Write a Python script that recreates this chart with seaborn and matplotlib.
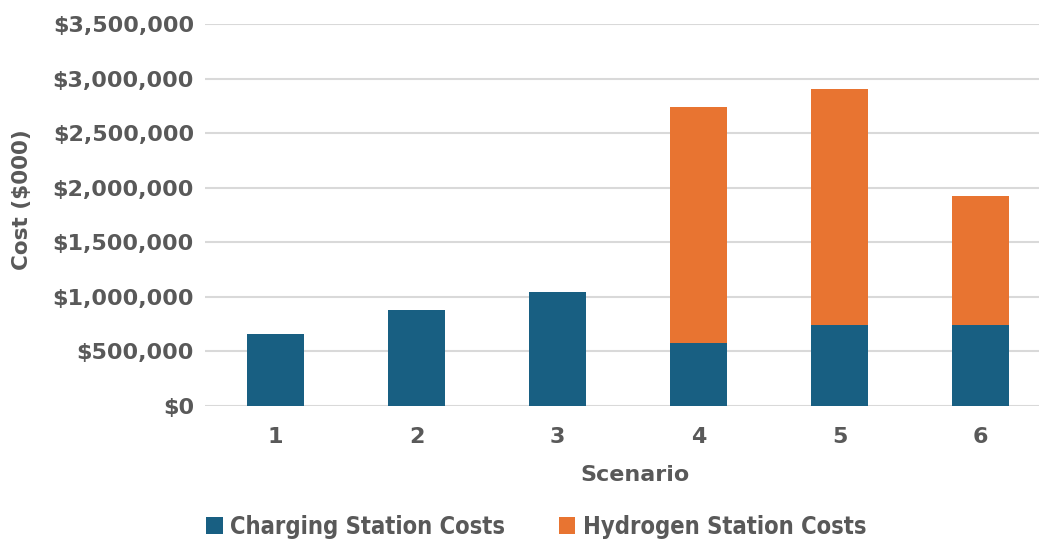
import matplotlib
matplotlib.use("Agg")
import matplotlib.pyplot as plt
from matplotlib.patches import Patch
from matplotlib.ticker import FuncFormatter
import seaborn as sns
import pandas as pd

scenarios = ["1", "2", "3", "4", "5", "6"]
charging_costs = [660000, 882000, 1047000, 577000, 745000, 745000]
hydrogen_costs = [0, 0, 0, 2163000, 2162000, 1182000]
series_names = ["Charging Station Costs", "Hydrogen Station Costs"]
y_ticks = [0, 500000, 1000000, 1500000, 2000000, 2500000, 3000000, 3500000]

BLUE = "#185F82"
ORANGE = "#E87431"
TEXT = "#595959"
GRID = "#D9D9D9"

sns.set_theme(style="white")
plt.rcParams["font.family"] = ["DejaVu Sans"]

df = pd.DataFrame({
    "Scenario": scenarios,
    "Charging": charging_costs,
    "Total": [c + h for c, h in zip(charging_costs, hydrogen_costs)],
})

fig = plt.figure(figsize=(10.39, 5.44), dpi=100)
ax = fig.add_axes([205 / 1039, 1 - 406 / 544, (1051 - 205) / 1039, (406 - 24) / 544])

# stacked bars: full total in orange, charging share in blue drawn over it
sns.barplot(data=df, x="Scenario", y="Total", color=ORANGE, saturation=1,
            width=0.4, linewidth=0, ax=ax, zorder=2)
sns.barplot(data=df, x="Scenario", y="Charging", color=BLUE, saturation=1,
            width=0.4, linewidth=0, ax=ax, zorder=3)

ax.set_ylim(0, 3500000)
ax.set_xlim(-0.5, 5.5)
ax.set_yticks(y_ticks)
ax.yaxis.set_major_formatter(FuncFormatter(lambda v, p: f"${v:,.0f}"))
ax.grid(axis="y", color=GRID, linewidth=1.5, zorder=0)
ax.set_axisbelow(True)
for s in ax.spines.values():
    s.set_visible(False)
ax.tick_params(axis="both", length=0, colors=TEXT, labelsize=16)
ax.tick_params(axis="y", pad=8)
ax.tick_params(axis="x", pad=15)
for lbl in ax.get_xticklabels() + ax.get_yticklabels():
    lbl.set_fontweight("bold")
    lbl.set_color(TEXT)

ax.set_xlabel("Scenario", fontsize=16, fontweight="bold", color=TEXT)
ax.set_ylabel("Cost ($000)", fontsize=15.5, fontweight="bold", color=TEXT)
ax.xaxis.set_label_coords((635 - 205) / 846, -(475 - 406) / 382)
ax.yaxis.set_label_coords((22 - 205) / 846, (406 - 200) / 382)
ax.xaxis.label.set_va("center")
ax.yaxis.label.set_va("center")

handles = [Patch(facecolor=BLUE, edgecolor="none"), Patch(facecolor=ORANGE, edgecolor="none")]
leg = fig.legend(handles, series_names, loc="center", bbox_to_anchor=(536 / 1039, 1 - 527 / 544),
                 ncol=2, frameon=False, handlelength=0.7, handleheight=0.7,
                 handletextpad=0.3, columnspacing=2.3,
                 prop={"family": "DejaVu Sans", "stretch": "condensed", "weight": "bold", "size": 17})
for t in leg.get_texts():
    t.set_color(TEXT)

fig.savefig("out.png", dpi=100)
